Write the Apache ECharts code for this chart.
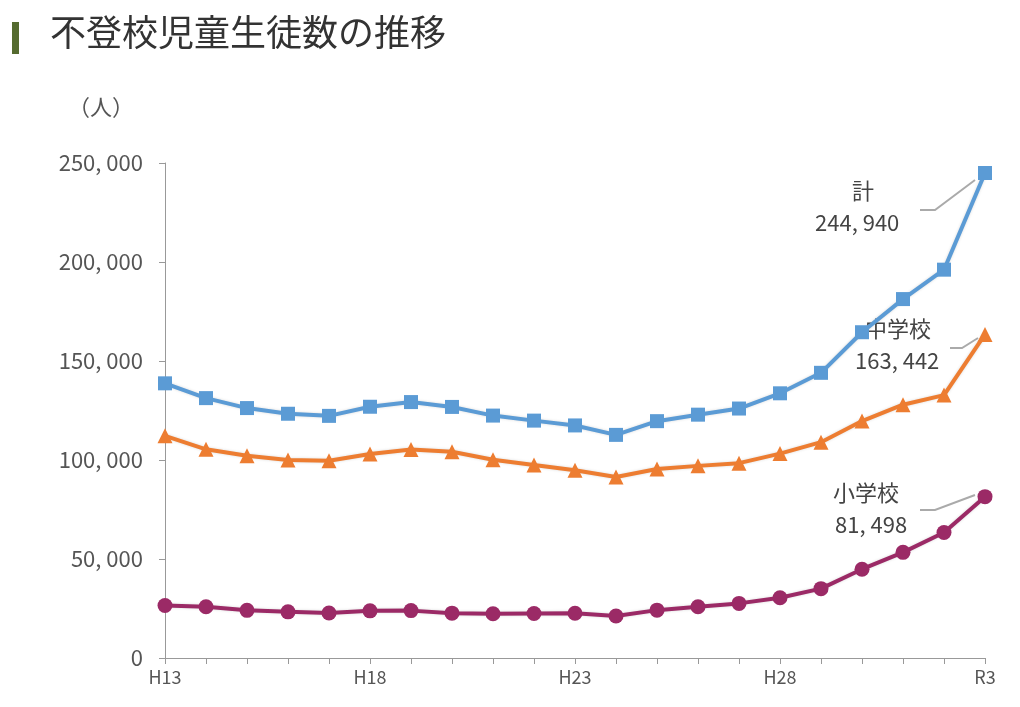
<!DOCTYPE html>
<html><head><meta charset="utf-8">
<script src="https://cdn.jsdelivr.net/npm/echarts@6/dist/echarts.min.js"></script>
<style>html,body{margin:0;background:#fff}#c{width:1020px;height:707px}</style>
</head><body><div id="c"></div>
<script>
const categories = ['H13','H14','H15','H16','H17','H18','H19','H20','H21','H22','H23','H24','H25','H26','H27','H28','H29','H30','R1','R2','R3'];
const shown = ['H13','H18','H23','H28','R3'];
const elementary = [26511,25869,24077,23318,22709,23825,23927,22652,22327,22463,22622,21243,24175,25864,27583,30448,35032,44841,53350,63350,81498];
const junior = [112211,105383,102149,100040,99578,103069,105328,104153,100105,97428,94836,91446,95442,97033,98408,103235,108999,119687,127922,132777,163442];
const total = elementary.map((v, i) => v + junior[i]);

const chart = echarts.init(document.getElementById('c'));
const font = '"Noto Sans CJK JP", sans-serif';

function line(name, data, color, symbol, size) {
  return {
    name, type: 'line', data, symbol, symbolSize: size,
    lineStyle: { color, width: 4, shadowColor: 'rgba(0,0,0,0.15)', shadowBlur: 3 },
    itemStyle: { color },
    z: 3
  };
}

chart.setOption({
  animation: false,
  grid: { left: 165, right: 35, top: 163, bottom: 49 },
  xAxis: {
    type: 'category', data: categories, boundaryGap: false,
    axisLine: { lineStyle: { color: '#999' } },
    axisTick: { show: true, interval: 0, length: 6, lineStyle: { color: '#999' } },
    axisLabel: {
      interval: 0, color: '#555', fontFamily: font, fontSize: 18, margin: 10,
      formatter: v => shown.includes(v) ? v : ''
    }
  },
  yAxis: {
    type: 'value', min: 0, max: 250000, interval: 50000,
    splitLine: { show: false },
    axisLine: { show: true, lineStyle: { color: '#999' } },
    axisTick: { show: true, length: 6, lineStyle: { color: '#999' } },
    axisLabel: {
      color: '#555', fontFamily: font, fontSize: 22, margin: 22,
      formatter: v => v.toLocaleString('en-US').replace(/,/g, ', ')
    }
  },
  series: [
    line('計', total, '#5b9bd5', 'rect', 14),
    line('中学校', junior, '#ed7d31', 'triangle', 15),
    line('小学校', elementary, '#9b2a66', 'circle', 15)
  ],
  graphic: [
    { type: 'rect', shape: { x: 12, y: 22, width: 7, height: 32 }, style: { fill: '#556b2f' } },
    { type: 'text', left: 50, top: 14, style: { text: '不登校児童生徒数の推移', font: '36px "Noto Sans CJK JP"', fill: '#333' } },
    { type: 'text', left: 68, top: 96, style: { text: '（人）', font: '22px "Noto Sans CJK JP"', fill: '#555' } },
    { type: 'text', left: 852, top: 180, style: { text: '計', font: '22px "Noto Sans CJK JP"', fill: '#444' } },
    { type: 'text', left: 815, top: 212, style: { text: '244, 940', font: '22px "Noto Sans CJK JP"', fill: '#444' } },
    { type: 'polyline', shape: { points: [[920, 210], [935, 210], [975, 180]] }, style: { stroke: '#aaa', lineWidth: 2 } },
    { type: 'text', left: 865, top: 318, style: { text: '中学校', font: '22px "Noto Sans CJK JP"', fill: '#444' } },
    { type: 'text', left: 855, top: 350, style: { text: '163, 442', font: '22px "Noto Sans CJK JP"', fill: '#444' } },
    { type: 'polyline', shape: { points: [[950, 348], [962, 348], [978, 338]] }, style: { stroke: '#aaa', lineWidth: 2 } },
    { type: 'text', left: 833, top: 482, style: { text: '小学校', font: '22px "Noto Sans CJK JP"', fill: '#444' } },
    { type: 'text', left: 835, top: 514, style: { text: '81, 498', font: '22px "Noto Sans CJK JP"', fill: '#444' } },
    { type: 'polyline', shape: { points: [[920, 510], [935, 510], [975, 495]] }, style: { stroke: '#aaa', lineWidth: 2 } }
  ]
});
</script></body></html>
